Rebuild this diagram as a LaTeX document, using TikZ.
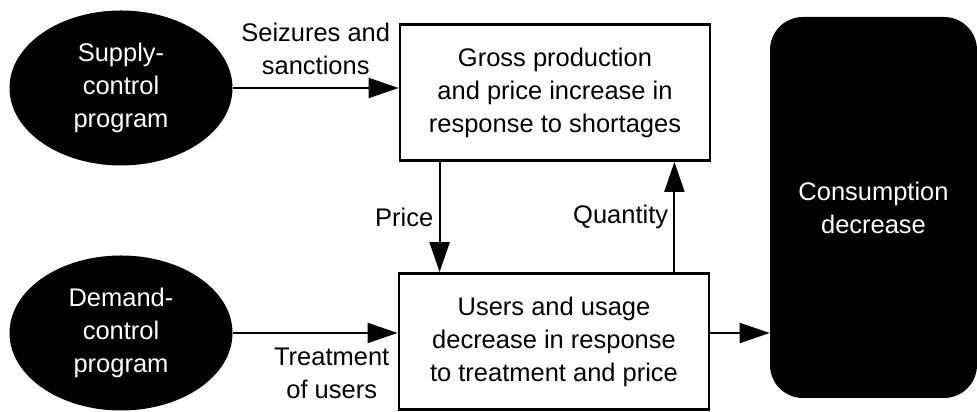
\documentclass[tikz,border=0pt]{standalone}
\usepackage{fontspec}
\setmainfont{Liberation Sans}
\usetikzlibrary{arrows.meta, shapes.geometric}
\tikzset{
  prog/.style={ellipse, fill=black, text=white, align=center, inner sep=0pt,
               minimum width=4.46cm, minimum height=3.1cm},
  proc/.style={rectangle, draw=black, line width=1.6pt, fill=white, align=center,
               minimum width=6.2cm, minimum height=2.72cm, inner sep=2pt},
  flow/.style={-{Triangle[length=6mm, width=4mm]}, line width=1.2pt, draw=black},
  lbl/.style={align=center, inner sep=3pt},
}

\begin{document}
\begin{tikzpicture}[
  every node/.append style={font=\fontsize{14.5}{18.8}\selectfont},
  outc/.style={rectangle, rounded corners=0.66cm, fill=black, text=white, align=center,
               minimum width=4.14cm, minimum height=7.62cm}]
  \useasboundingbox (0,0) rectangle (19.54,8.24);
  \node[prog] (supply) at (2.42,6.48) {Supply-\\control\\program};
  \node[prog] (demand) at (2.42,1.58) {Demand-\\control\\program};
  \node[proc] (gross) at (11.1,6.39) {Gross production\\and price increase in\\response to shortages};
  \node[proc] (users) at (11.08,1.41) {Users and usage\\decrease in response\\to treatment and price};
  \node[outc] (cons) at (17.47,4.09) {Consumption\\decrease};
  \draw[flow] (supply.east) -- node[lbl, above=4pt]{Seizures and\\sanctions} (supply.east -| gross.west);
  \draw[flow] (demand.east) -- node[lbl, below=5pt, pos=0.6]{Treatment\\of users} (demand.east -| users.west);
  \draw[flow] ([xshift=8.2mm]gross.south west) coordinate (pr) -- node[lbl, left]{Price} (pr |- users.north);
  \draw[flow] ([xshift=-7.4mm]gross.south east |- users.north) coordinate (qu) -- node[lbl, left]{Quantity} (qu |- gross.south);
  \draw[flow] (demand -| users.east) -- (demand -| cons.west);
\end{tikzpicture}
\end{document}
